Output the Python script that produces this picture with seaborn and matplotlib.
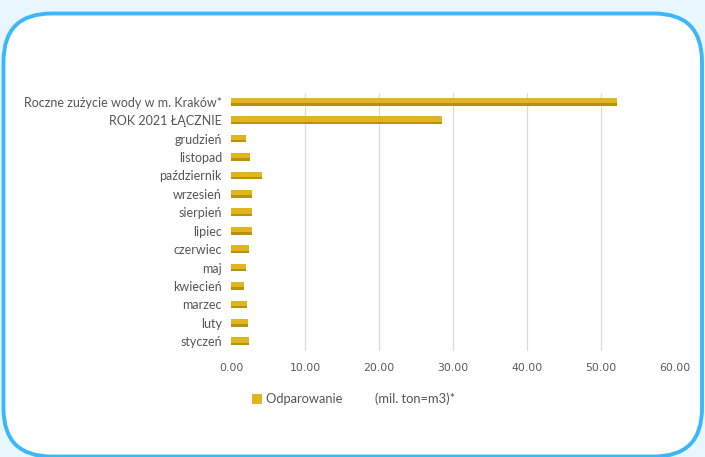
import matplotlib
matplotlib.use("Agg")
import matplotlib.pyplot as plt
import matplotlib.patches as mpatches
from matplotlib.transforms import IdentityTransform
import seaborn as sns
import pandas as pd

# Evaporation per month and yearly totals (mil. ton = m3)
categories = [
    "Roczne zużycie wody w m. Kraków*",
    "ROK 2021 ŁĄCZNIE",
    "grudzień",
    "listopad",
    "październik",
    "wrzesień",
    "sierpień",
    "lipiec",
    "czerwiec",
    "maj",
    "kwiecień",
    "marzec",
    "luty",
    "styczeń",
]
values = [52.1, 28.5, 2.0, 2.6, 4.2, 2.9, 2.9, 2.9, 2.5, 2.0, 1.7, 2.1, 2.3, 2.4]
x_ticks = [0, 10, 20, 30, 40, 50, 60]
series_label = "Odparowanie"
unit_label = "(mil. ton=m3)*"

df = pd.DataFrame({"kategoria": categories, "wartosc": values})

sns.set_theme(style="white")
plt.rcParams["font.family"] = ["Lato", "DejaVu Sans"]

W, H = 705, 457
fig = plt.figure(figsize=(W / 100, H / 100), dpi=100)
fig.patch.set_facecolor("#e8f6fd")

# rounded white card with blue border, in pixel coordinates
card = mpatches.FancyBboxPatch(
    (3.5, 0.5), 702 - 3.5, 443.5 - 0.5,
    boxstyle=mpatches.BoxStyle("Round", pad=0, rounding_size=48),
    transform=IdentityTransform(),
    facecolor="white", edgecolor="#3bb8fd", linewidth=2.8,
    zorder=-5,
)
fig.patches.append(card)

ax = fig.add_axes([231 / W, 1 - 350.5 / H, (675 - 231) / W, (350.5 - 92.5) / H])
ax.set_facecolor("none")

sns.barplot(
    data=df, x="wartosc", y="kategoria", orient="h",
    color="#e0b520", width=0.42, saturation=1, ax=ax, linewidth=0,
    label=series_label + "          " + unit_label, zorder=3,
)
# darker lower edge on each bar
for p in list(ax.patches):
    y0 = p.get_y()
    h = p.get_height()
    ax.add_patch(mpatches.Rectangle((p.get_x(), y0 + h * 0.68), p.get_width(), h * 0.32,
                                    facecolor="#b8920f", edgecolor="none", zorder=3.5))

ax.set_xlim(0, 60)
ax.set_xticks(x_ticks)
ax.set_xticklabels([f"{t:.2f}" for t in x_ticks], fontfamily="DejaVu Sans",
                   fontsize=7.8, color="#5a5a5a")
ax.tick_params(axis="x", length=0, pad=9)
ax.tick_params(axis="y", length=0, pad=6.5, labelsize=9.0, labelcolor="#555555")
ax.set_xlabel("")
ax.set_ylabel("")
for s in ax.spines.values():
    s.set_visible(False)
ax.grid(axis="x", color="#dcdcdc", linewidth=0.9, zorder=0)
ax.set_axisbelow(True)
ax.xaxis.get_gridlines()[0].set_visible(False)

leg = ax.legend(
    loc="center left", bbox_to_anchor=(240 / W, 1 - 399 / H),
    bbox_transform=fig.transFigure, frameon=False,
    handlelength=0.8, handleheight=0.8, handletextpad=0.3,
    fontsize=9.3, labelcolor="#555555",
)

fig.savefig("out.png", dpi=100, facecolor=fig.get_facecolor())
